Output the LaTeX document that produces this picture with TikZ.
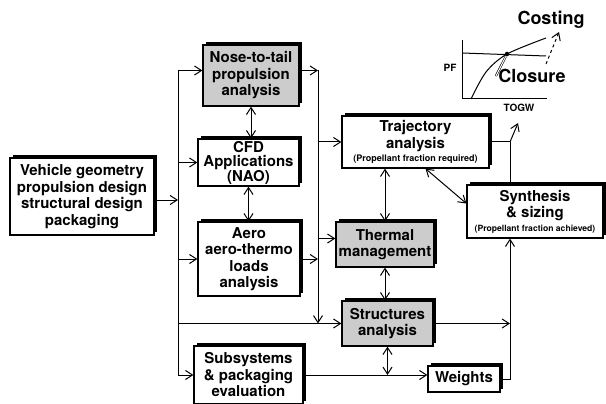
\documentclass[tikz,border=0pt]{standalone}
\usepackage{fontspec}
\setmainfont{TeX Gyre Heros}
\usetikzlibrary{arrows.meta,shadows}

\begin{document}
\begin{tikzpicture}[x=1pt,y=-1pt,
    >={Straight Barb[length=7pt,width=9pt]},
    line width=1pt,
    block/.style={draw,line width=1.2pt,fill=white,align=center,inner sep=0pt,
      font=\bfseries\fontsize{15}{16.5}\selectfont,
      drop shadow={shadow xshift=3pt,shadow yshift=3pt,fill=black,opacity=1}},
    shaded/.style={block,fill=gray!40},
    lbl/.style={font=\bfseries\fontsize{10}{11}\selectfont,inner sep=0pt},
    big/.style={font=\bfseries\fontsize{18}{19}\selectfont,inner sep=0pt}]
\useasboundingbox (0,0) rectangle (606,404);

% blocks
\node[block,minimum width=144,minimum height=77] (veh) at (82,196.5) {Vehicle geometry\\propulsion design\\structural design\\packaging};
\node[shaded,minimum width=96,minimum height=61] (nose) at (251,75.5) {Nose-to-tail\\propulsion\\analysis};
\node[block,minimum width=101,minimum height=47] (cfd) at (248.5,162.5) {CFD\\[-2pt]Applications\\[-2pt](NAO)};
\node[block,minimum width=102,minimum height=74] (aero) at (249,259) {Aero\\aero-thermo\\loads\\analysis};
\node[block,minimum width=109,minimum height=58] (sub) at (248.5,375) {Subsystems\\\& packaging\\evaluation};
\node[block,minimum width=147,minimum height=52] (traj) at (415.5,142) {Trajectory\\analysis\\[-3pt]{\fontsize{9}{10}\selectfont (Propellant fraction required)}};
\node[block,minimum width=136,minimum height=53] (syn) at (535,211.5) {Synthesis\\\& sizing\\[-3pt]{\fontsize{8.6}{10}\selectfont (Propellant fraction achieved)}};
\node[shaded,minimum width=98,minimum height=45] (therm) at (385,244.5) {Thermal\\management};
\node[shaded,minimum width=91,minimum height=45] (struct) at (387.5,323.5) {Structures\\analysis};
\node[block,minimum width=72,minimum height=26] (wts) at (464,379) {Weights};

% buses
\coordinate (busA) at (178,200);
\coordinate (busB) at (318,70);
\coordinate (tj) at (510,142);
\coordinate (tip) at (518,123);
\coordinate (nw) at ([yshift=5pt]nose.west);
\coordinate (ne) at ([yshift=5pt]nose.east);
\coordinate (tw) at ([yshift=6pt]therm.west);

\draw[->] (veh.east |- busA) -- (busA);
\draw (nw -| busA) -- (busA |- sub.west);
\draw[->] (nw -| busA) -- (nw);
\draw[->] (busA |- cfd.west) -- (cfd.west);
\draw[->] (busA |- aero.west) -- (aero.west);
\draw[->] (busA |- sub.west) -- (sub.west);
\draw[->] (busA |- struct.west) -- (struct.west);

\draw[->] (ne) -- (ne -| busB);
\draw[->] (ne -| busB) -- (busB |- struct.west);
\draw[->] (busB |- traj.west) -- (traj.west);
\draw[->] (busB |- tw) -- (tw);
\draw[->] (aero.east) -- (aero.east -| busB);

\draw[<->] (nose.south) -- (nose.south |- cfd.north);
\draw[<->] (cfd.south) -- (cfd.south |- aero.north);
\draw[<->] (therm.north |- traj.south) -- (therm.north);
\draw[<->] (therm.south) -- (therm.south |- struct.north);
\draw[<->] (struct.south) -- (struct.south |- sub.east);
\draw[->] (sub.east) -- (sub.east -| wts.west);
\draw[<->] ([xshift=10pt]traj.south) -- ([yshift=8pt]syn.west);

\draw (traj.east) -- (tj);
\draw (syn.north -| tj) -- (tj);
\draw[->] (tj) -- (tip);
\draw[->] (struct.east) -- (struct.east -| tj);
\draw[->] (wts.east) -| (syn.south -| tj);

% closure graph
\draw (462,40) -- (462,99) -- (547,99);
\draw (462,53) -- (546,56);
\draw plot[smooth] coordinates {(471,99) (486,72) (507,54) (546,38)};
\node[circle,fill,inner sep=1.6pt] (cl) at (507,54) {};
\node[lbl] (pf) at (450,68) {PF};
\node[lbl] (togw) at (519,108) {TOGW};
\node[big] (closure) at (532,76) {Closure};
\node[big] (costing) at (551,20) {Costing};
\draw[double,double distance=1pt,line width=0.6pt] ([xshift=-2pt]closure.west) -- (cl);
\draw[->,dashed] (546,64) -- (559,32);
\end{tikzpicture}
\end{document}
